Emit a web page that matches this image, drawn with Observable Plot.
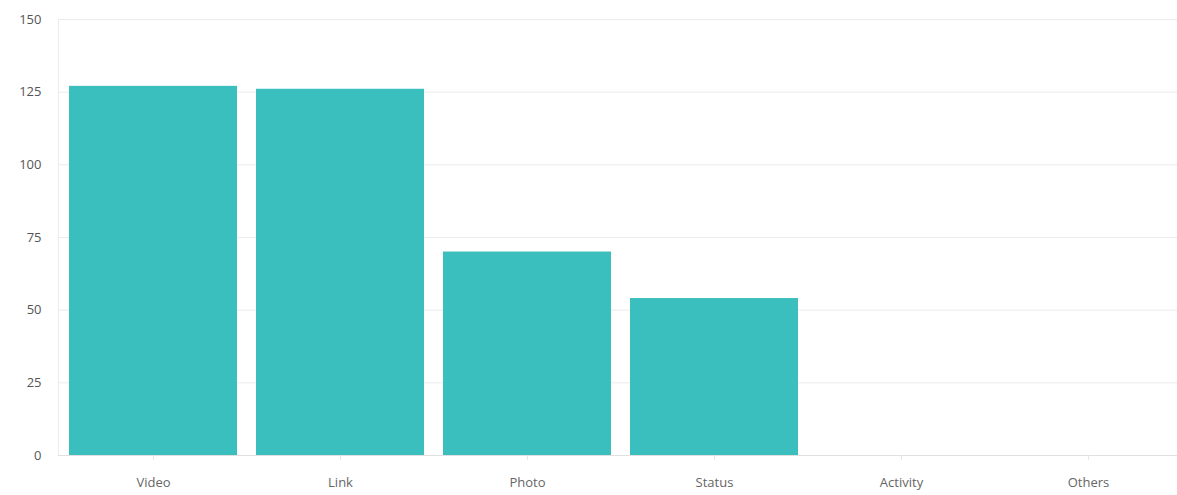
<!DOCTYPE html>
<html>
<head>
<meta charset="utf-8">
<script src="https://cdn.jsdelivr.net/npm/d3@7"></script>
<script src="https://cdn.jsdelivr.net/npm/@observablehq/plot@0.6"></script>
<style>
  html, body { margin: 0; padding: 0; background: #fff; }
  body { width: 1177px; height: 495px; overflow: hidden; }
</style>
</head>
<body>
<div id="chart"></div>
<script>
const categories = ["Video", "Link", "Photo", "Status", "Activity", "Others"];
const values = [127, 126, 70, 54, 0, 0];
const yTicks = [0, 25, 50, 75, 100, 125, 150];

const data = categories.map((c, i) => ({category: c, value: values[i]}));

const chart = Plot.plot({
  width: 1177,
  height: 495,
  marginTop: 19,
  marginBottom: 40,
  marginLeft: 58,
  marginRight: 0,
  style: {fontFamily: "'Open Sans', sans-serif", fontSize: "13px", color: "#555", background: "#fff"},
  x: {domain: categories, range: [58, 1184], paddingInner: 0.1, paddingOuter: 0.05, label: null},
  y: {domain: [0, 150], label: null},
  marks: [
    Plot.gridY(yTicks, {stroke: "#ececec", strokeOpacity: 1}),
    Plot.frame({anchor: "left", stroke: "#ececec", strokeOpacity: 1}),
    Plot.barY(data, {x: "category", y: "value", fill: "#3bbfbe"}),
    Plot.ruleY([0], {stroke: "#e0e0e0"}),
    Plot.axisY(yTicks, {tickSize: 0, tickPadding: 17, fill: "#555", fontSize: 13, label: null}),
    Plot.axisX({tickSize: 5, stroke: "#e6e6e6", strokeOpacity: 1, tickPadding: 17, fill: "#666", fontSize: 13, label: null})
  ]
});
document.getElementById("chart").appendChild(chart);
</script>
</body>
</html>
